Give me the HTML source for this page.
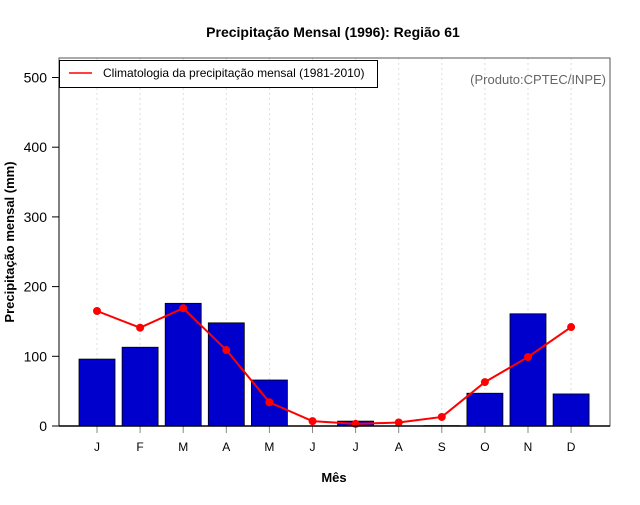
<!DOCTYPE html>
<html><head><meta charset="utf-8"><style>body{margin:0;background:#fff}svg{font-family:"Liberation Sans",sans-serif}</style></head>
<body>
<svg id="c" width="640" height="500">
<text x="333" y="37" text-anchor="middle" font-size="14" font-weight="bold">Precipitação Mensal (1996): Região 61</text>
<text x="334" y="482" text-anchor="middle" font-size="13" font-weight="bold">Mês</text>
<text transform="translate(14,242) rotate(-90)" text-anchor="middle" font-size="13" font-weight="bold">Precipitação mensal (mm)</text>
<g id="grid"></g><g id="bars"></g><g id="axes"></g><g id="line"></g>
<rect x="59" y="58" width="551" height="368" fill="none" stroke="#555"/>
<line x1="59" y1="426" x2="610" y2="426" stroke="#000" stroke-width="1.5"/>
<line x1="59" y1="78" x2="59" y2="426" stroke="#000"/>
<g>
<rect x="59.5" y="60.5" width="318" height="27" fill="#fff" stroke="#000"/>
<line x1="69" y1="73" x2="92" y2="73" stroke="red" stroke-width="1.5"/>
<text x="103" y="77" font-size="12">Climatologia da precipitação mensal (1981-2010)</text>
</g>
<text x="606" y="84" text-anchor="end" font-size="13" fill="#666">(Produto:CPTEC/INPE)</text>
</svg>
<script>
const months=["J","F","M","A","M","J","J","A","S","O","N","D"];
const obs=[96,113,176,148,66,0,7,0,0.5,47,161,46];
const clim=[165,141,169,109,34,7,3,5,13,63,99,142];
const yTicks=[0,100,200,300,400,500];
const NS="http://www.w3.org/2000/svg";
const x=i=>97+i*43.1, y=v=>426-v*0.697;
function mk(p,t,a){const e=document.createElementNS(NS,t);for(const k in a)e.setAttribute(k,a[k]);document.getElementById(p).appendChild(e);return e;}
months.forEach((m,i)=>{
 let g=mk('grid','line',{x1:x(i),x2:x(i),y1:58,y2:426,stroke:'#ddd','stroke-dasharray':'2,3'});
 
 
 let b=mk('bars','rect',{x:x(i)-18,y:y(obs[i]),width:36,height:426-y(obs[i]),fill:'#0000cd',stroke:'#000','stroke-width':0.8});
 
 
 let t=mk('axes','line',{x1:x(i),x2:x(i),y1:426,y2:433,stroke:'#888'});
 
 
 let l=mk('axes','text',{x:x(i),y:451,'text-anchor':'middle','font-size':12});l.textContent=m;
 
 
});
yTicks.forEach(v=>{
 let t=mk('axes','line',{x1:52,x2:59,y1:y(v),y2:y(v),stroke:'#000'});
 
 
 let l=mk('axes','text',{x:47,y:y(v)+5,'text-anchor':'end','font-size':14});l.textContent=v;
 
 
});
let p=mk('line','polyline',{points:clim.map((v,i)=>x(i)+','+y(v)).join(' '),fill:'none',stroke:'red','stroke-width':2});


clim.forEach((v,i)=>{let c=mk('line','circle',{cx:x(i),cy:y(v),r:4,fill:'red'});
 
 });
</script>
</body></html>
